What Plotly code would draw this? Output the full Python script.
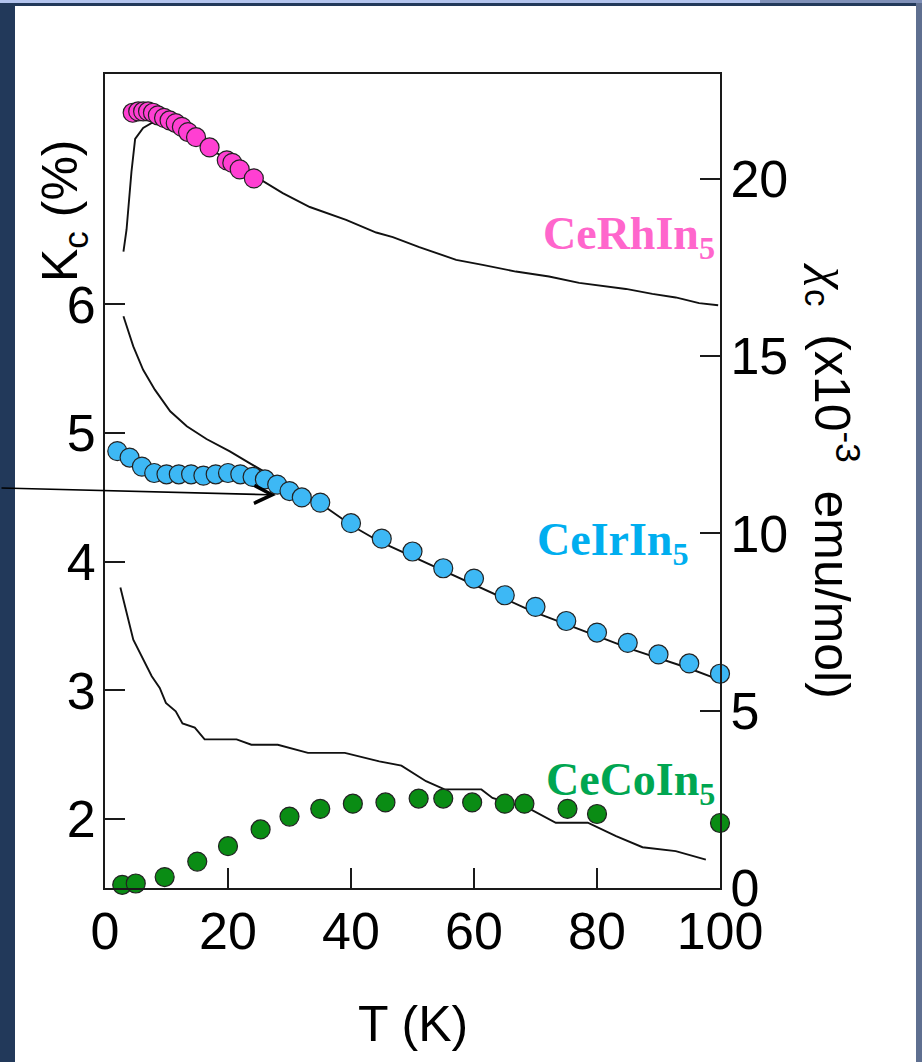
import plotly.graph_objects as go

# ---------------- data ----------------
# Knight shift K_c (%) markers (left axis)
rh_T = [4.5, 5.4, 6.2, 7.0, 7.8, 8.6, 9.6, 10.5, 11.5, 12.5, 13.5, 14.8, 17.0, 19.8, 20.7, 21.9, 24.2]
rh_K = [7.49, 7.50, 7.50, 7.50, 7.49, 7.47, 7.45, 7.43, 7.41, 7.38, 7.34, 7.30, 7.22, 7.12, 7.10, 7.05, 6.98]

ir_T = [2, 4, 6, 8, 10, 12, 14, 16, 18, 20, 22, 24, 26, 28, 30, 32, 35, 40, 45, 50, 55, 60, 65, 70, 75,
        80, 85, 90, 95, 100]
ir_K = [4.86, 4.81, 4.74, 4.69, 4.68, 4.68, 4.68, 4.67, 4.68, 4.69, 4.68, 4.66, 4.64, 4.60, 4.55, 4.50,
        4.46, 4.30, 4.18, 4.08, 3.95, 3.87, 3.74, 3.65, 3.54, 3.45, 3.37, 3.28, 3.21, 3.13]

co_T = [2.8, 5, 9.7, 15, 20, 25.3, 30, 35, 40.3, 45.6, 51, 55, 59.7, 65, 68.2, 75.2, 80, 100]
co_K = [1.49, 1.50, 1.55, 1.67, 1.79, 1.92, 2.02, 2.08, 2.12, 2.13, 2.16, 2.16, 2.13, 2.12, 2.12, 2.08,
        2.04, 1.97]

# susceptibility chi_c (x10^-3 emu/mol) lines (right axis)
rh_line_T = [3.0, 3.5, 4.3, 4.9, 6.2, 7.6, 9.7, 10.6, 13.8, 16.2, 18.6, 25.7, 28.9, 33.3, 39.2, 44.1,
             46.8, 51.1, 57.1, 61.4, 66.8, 72.2, 77.1, 84.7, 89.0, 92.8, 96.6, 99.7]
rh_line_chi = [17.94, 18.56, 20.19, 21.12, 21.43, 21.57, 21.58, 21.43, 21.18, 20.93, 20.66, 19.92, 19.59,
               19.20, 18.84, 18.48, 18.35, 18.07, 17.71, 17.57, 17.38, 17.24, 17.06, 16.89, 16.75, 16.65,
               16.49, 16.43]

ir_line_T = [3.0, 4.6, 6.2, 8.1, 10.6, 13.3, 16.5, 20.3, 23.5, 25.7, 29.2, 36.0, 40.3, 44.6, 54.4, 69.5,
             85.8, 94.7, 99.7]
ir_line_chi = [16.12, 15.27, 14.61, 14.05, 13.44, 13.02, 12.66, 12.31, 11.98, 11.75, 11.40, 10.72, 10.20,
               9.77, 9.00, 7.80, 6.72, 6.21, 5.88]

co_line_T = [2.5, 4.6, 7.6, 8.9, 9.9, 11.5, 12.6, 14.6, 16.2, 21.4, 23.8, 28.1, 33.0, 39.0, 44.6, 48.2,
             52.2, 55.2, 61.2, 63.0, 69.3, 73.3, 78.5, 83.1, 87.4, 92.8, 97.7]
co_line_chi = [8.47, 7.00, 5.97, 5.64, 5.22, 4.98, 4.64, 4.52, 4.19, 4.19, 4.04, 4.04, 3.81, 3.81, 3.57,
               3.45, 3.01, 2.78, 2.78, 2.54, 2.21, 1.84, 1.84, 1.46, 1.15, 1.04, 0.80]

x_ticks = [0, 20, 40, 60, 80, 100]
k_ticks = [2, 3, 4, 5, 6]
chi_ticks = [0, 5, 10, 15, 20]

# ---------------- figure ----------------
W, H = 922, 1062
L, R, T, B = 105, 720, 74, 888   # plot area in page pixels

def px(x):
    return (x - L) / (R - L)

def py(y):
    return (B - y) / (B - T)

SANS = "Liberation Sans, Arial, sans-serif"
SERIF = "Liberation Serif, Times New Roman, serif"
AX = "#1a1a1a"

fig = go.Figure()

line_style = dict(color="#111111", width=1.9)
for xs, ys in [(rh_line_T, rh_line_chi), (ir_line_T, ir_line_chi), (co_line_T, co_line_chi)]:
    fig.add_trace(go.Scatter(x=xs, y=ys, mode="lines", line=line_style, yaxis="y",
                             showlegend=False, hoverinfo="skip"))

for xs, ys, col in [(rh_T, rh_K, "#ff3fd2"), (ir_T, ir_K, "#3db8f5"), (co_T, co_K, "#0a8c14")]:
    fig.add_trace(go.Scatter(x=xs, y=ys, mode="markers", yaxis="y2", cliponaxis=False,
                             marker=dict(size=19, color=col, line=dict(color="#222222", width=1.2)),
                             showlegend=False))

tickfont = dict(family=SANS, size=52, color="#000000")

fig.update_layout(
    width=W, height=H, autosize=False,
    margin=dict(l=L, r=W - R, t=T, b=H - B, pad=0),
    paper_bgcolor="#22395a",
    plot_bgcolor="#ffffff",
    xaxis=dict(range=[0, 100], tickvals=x_ticks, ticks="inside", ticklen=20, tickwidth=2,
               tickcolor=AX, showline=True, linecolor=AX, linewidth=2, mirror=True,
               showgrid=False, zeroline=False, tickfont=tickfont, ticklabelstandoff=-3),
    yaxis=dict(range=[0, 22.95], side="right", tickvals=chi_ticks, ticks="inside", ticklen=20,
               tickwidth=2, tickcolor=AX, showline=True, linecolor=AX, linewidth=2,
               showgrid=False, zeroline=False, tickfont=tickfont, ticklabelstandoff=-2),
    yaxis2=dict(range=[1.465, 7.791], side="left", overlaying="y", tickvals=k_ticks, ticks="inside",
                ticklen=20, tickwidth=2, tickcolor=AX, showline=True, linecolor=AX, linewidth=2,
                showgrid=False, zeroline=False, tickfont=tickfont, ticklabelstandoff=-3),
)

# slide-like frame
shapes = [
    dict(type="rect", xref="paper", yref="paper", x0=px(15), x1=px(916), y0=py(1100), y1=py(6),
         fillcolor="#ffffff", line=dict(width=0), layer="below"),
    dict(type="rect", xref="paper", yref="paper", x0=px(916), x1=px(960), y0=py(1100), y1=py(0),
         fillcolor="#5f6f90", line=dict(width=0), layer="below"),
    dict(type="rect", xref="paper", yref="paper", x0=px(-20), x1=px(760), y0=py(3), y1=py(-20),
         fillcolor="#b3c4ee", line=dict(width=0), layer="below"),
    dict(type="rect", xref="paper", yref="paper", x0=px(760), x1=px(960), y0=py(3), y1=py(-20),
         fillcolor="#7f90b8", line=dict(width=0), layer="below"),
]
fig.update_layout(shapes=shapes)

ann = []
lab_font = lambda c: dict(family=SERIF, size=46, color=c)
ann.append(dict(text="<b>CeRhIn<sub>5</sub></b>", xref="paper", yref="paper", x=px(717), y=py(237),
                xanchor="right", yanchor="middle", showarrow=False, font=lab_font("#ff66cc")))
ann.append(dict(text="<b>CeIrIn<sub>5</sub></b>", xref="paper", yref="paper", x=px(691), y=py(543),
                xanchor="right", yanchor="middle", showarrow=False, font=lab_font("#00aeef")))
ann.append(dict(text="<b>CeCoIn<sub>5</sub></b>", xref="paper", yref="paper", x=px(717), y=py(783),
                xanchor="right", yanchor="middle", showarrow=False, font=lab_font("#00a651")))

# axis titles
ann.append(dict(text="T (K)", xref="paper", yref="paper", x=0.5, y=py(1024), xanchor="center",
                yanchor="middle", showarrow=False, font=dict(family=SANS, size=50, color="#000")))
ann.append(dict(text="K<sub>c</sub> (%)", xref="paper", yref="paper", x=px(64), y=py(211),
                xanchor="center", yanchor="middle", textangle=-90, showarrow=False,
                font=dict(family=SANS, size=50, color="#000")))
ann.append(dict(text="<span style=\"font-family:'Liberation Serif'\"><i>\u03c7</i></span><sub>c</sub>"
                     "\u00a0 (x10<sup>-3</sup>\u00a0 emu/mol)",
                xref="paper", yref="paper",
                x=px(833), y=py(481), xanchor="center", yanchor="middle", textangle=90,
                showarrow=False, font=dict(family=SANS, size=50, color="#000")))

# pointer arrow
ann.append(dict(text="", x=27.8, y=4.52, xref="x", yref="y2", ax=-276, ay=-7, showarrow=True,
                arrowhead=5, arrowsize=2.2, arrowwidth=1.6, arrowcolor="#000000"))

fig.update_layout(annotations=ann)

fig.write_html("out.html")
